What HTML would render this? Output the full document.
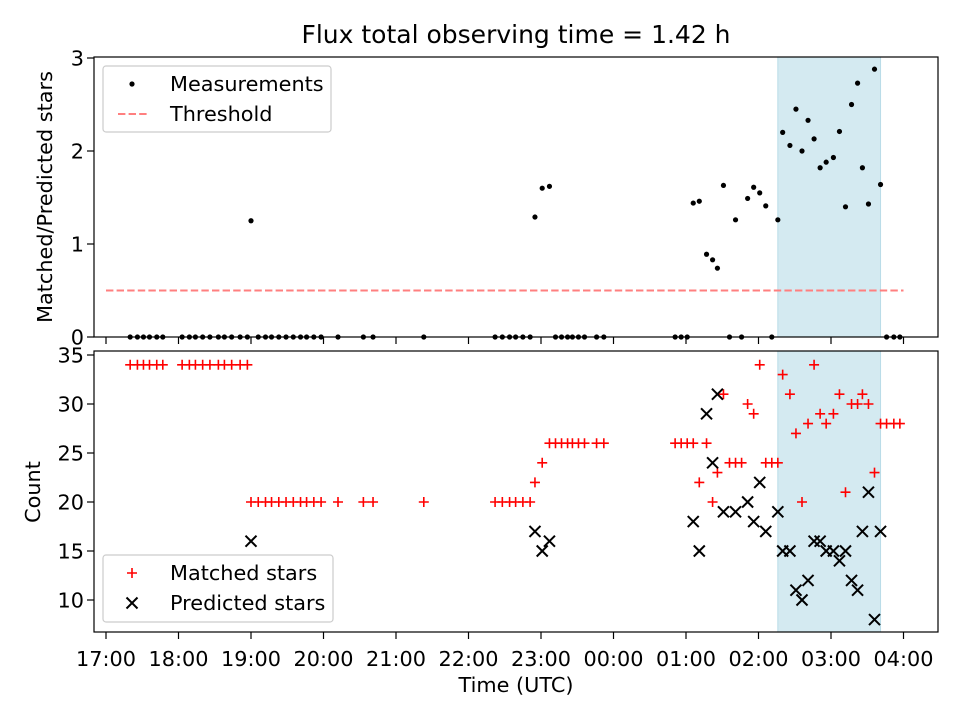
<!DOCTYPE html>
<html><head><meta charset="utf-8"><style>
html,body{margin:0;padding:0;background:#fff;}
svg{display:block;font-family:"DejaVu Sans","Liberation Sans",sans-serif;}
</style></head><body>
<svg id="chart" width="960" height="720" viewBox="0 0 960 720">
<text x="516" y="43" font-size="25" text-anchor="middle">Flux total observing time = 1.42 h</text>
<g id="topPanel"></g>
<g id="botPanel"></g>
<text transform="translate(52,197) rotate(-90)" font-size="20.8" text-anchor="middle">Matched/Predicted stars</text>
<text transform="translate(40,492) rotate(-90)" font-size="20.8" text-anchor="middle">Count</text>
<text x="516" y="692" font-size="20.8" text-anchor="middle">Time (UTC)</text>
</svg>
<script>
// minutes since 17:00 UTC
const times = [20,26,31,36,42,47, 63,69,74,80,86,93,98,104,111,117, 120,126,132,137,143,149,155,161,166,172,178, 192,213,221,263, 322,328,334,339,345,351, 355,361,367, 372,377,382,386,391,396,406,412, 471,476,481,486,491,497,502,506,511,516,521,526,531,536,541,546,551,556, 560,566,571,576,581,586,591,596,602,607,612,617,622,626,631,636,641, 646,652,657];
const matched = [34,34,34,34,34,34, 34,34,34,34,34,34,34,34,34,34, 20,20,20,20,20,20,20,20,20,20,20, 20,20,20,20, 20,20,20,20,20,20, 22,24,26, 26,26,26,26,26,26,26,26, 26,26,26,26,22,26,20,23,31,24,24,24,30,29,34,24,24,24, 33,31,27,20,28,34,29,28,29,31,21,30,30,31,30,23,28, 28,28,28];
const predicted = [null,null,null,null,null,null, null,null,null,null,null,null,null,null,null,null, 16,null,null,null,null,null,null,null,null,null,null, null,null,null,null, null,null,null,null,null,null, 17,15,16, null,null,null,null,null,null,null,null, null,null,null,18,15,29,24,31,19,null,19,null,20,18,22,17,null,19, 15,15,11,10,12,16,16,15,15,14,15,12,11,17,21,8,17, null,null,null];
const ratio = [0,0,0,0,0,0, 0,0,0,0,0,0,0,0,0,0, 1.25,0,0,0,0,0,0,0,0,0,0, 0,0,0,0, 0,0,0,0,0,0, 1.29,1.6,1.62, 0,0,0,0,0,0,0,0, 0,0,0,1.44,1.46,0.89,0.83,0.74,1.63,0,1.26,0,1.49,1.61,1.55,1.41,0,1.26, 2.2,2.06,2.45,2.0,2.33,2.13,1.82,1.88,1.93,2.21,1.40,2.5,2.73,1.82,1.43,2.88,1.64, 0,0,0];
const threshold = 0.5;
const thresholdRange = [0, 660];
const shadeRange = [556, 641];
const xTickMinutes = [0,60,120,180,240,300,360,420,480,540,600,660];
const xTickLabels = ["17:00","18:00","19:00","20:00","21:00","22:00","23:00","00:00","01:00","02:00","03:00","04:00"];
const topTicks = [0,1,2,3];
const botTicks = [10,15,20,25,30,35];

const NS="http://www.w3.org/2000/svg";
function mk(tag,attrs,parent){const e=document.createElementNS(NS,tag);for(const k in attrs)e.setAttribute(k,attrs[k]);parent.appendChild(e);return e;}
const L=94,R=938,FS=20.8,TL=7;
const X=m=>106+m*72.5/60;
const Yt=v=>337-v*(337-58)/3;
const Yb=v=>600-(v-10)*(600-355)/25;
const gTop=document.getElementById('topPanel'), gBot=document.getElementById('botPanel');

function shade(g,y0,y1){
  const r=mk('rect',{x:X(shadeRange[0]),y:y0,width:X(shadeRange[1])-X(shadeRange[0]),height:y1-y0,fill:'#d4eaf1',stroke:'#b9dce7','stroke-width':1},g);
  
  
}
shade(gTop,57,337); shade(gBot,351,632);

const th=mk('line',{x1:X(thresholdRange[0]),x2:X(thresholdRange[1]),y1:Yt(threshold),y2:Yt(threshold),stroke:'#ff7f7f','stroke-width':2,'stroke-dasharray':'7.4,3.2'},gTop);



times.forEach((t,i)=>{
  const c=mk('circle',{cx:X(t),cy:Yt(ratio[i]),r:2.6,fill:'#000'},gTop);
  
  
});
times.forEach((t,i)=>{
  const x=X(t),y=Yb(matched[i]);
  const p=mk('path',{d:`M${x-5},${y}H${x+5}M${x},${y-5}V${y+5}`,stroke:'#f00','stroke-width':1.6,fill:'none'},gBot);
  
  
});
times.forEach((t,i)=>{
  if(predicted[i]==null)return;
  const x=X(t),y=Yb(predicted[i]);
  const p=mk('path',{d:`M${x-5.5},${y-5.5}L${x+5.5},${y+5.5}M${x-5.5},${y+5.5}L${x+5.5},${y-5.5}`,stroke:'#000','stroke-width':2,fill:'none'},gBot);
  
  
});

[[gTop,57,337],[gBot,351,632]].forEach(([g,y0,y1])=>{
  const f=mk('rect',{x:L,y:y0,width:R-L,height:y1-y0,fill:'none',stroke:'#000','stroke-width':1.2},g);
  
  
});
xTickMinutes.forEach((m,i)=>{
  const x=X(m);
  mk('line',{x1:x,x2:x,y1:337,y2:337+TL,stroke:'#000','stroke-width':1.2},gTop);
  mk('line',{x1:x,x2:x,y1:632,y2:632+TL,stroke:'#000','stroke-width':1.2},gBot);
  const tx=mk('text',{x:x,y:666,'font-size':FS,'text-anchor':'middle'},gBot);
  tx.textContent=xTickLabels[i];
  
  
});
topTicks.forEach(v=>{
  const y=Yt(v);
  mk('line',{x1:L-TL,x2:L,y1:y,y2:y,stroke:'#000','stroke-width':1.2},gTop);
  const tx=mk('text',{x:L-10,y:y+7.5,'font-size':FS,'text-anchor':'end'},gTop);
  tx.textContent=v;
  
  
});
botTicks.forEach(v=>{
  const y=Yb(v);
  mk('line',{x1:L-TL,x2:L,y1:y,y2:y,stroke:'#000','stroke-width':1.2},gBot);
  const tx=mk('text',{x:L-10,y:y+7.5,'font-size':FS,'text-anchor':'end'},gBot);
  tx.textContent=v;
  
  
});

function legendBox(g,x,y,w,h,name){
  const r=mk('rect',{x:x,y:y,width:w,height:h,rx:3,fill:'#fff','fill-opacity':0.8,stroke:'#ccc','stroke-width':1.2},g);
  
  
}
legendBox(gTop,103,66,228,66,'legend-ratio');
mk('circle',{cx:132,cy:84,r:2.6,fill:'#000'},gTop);
let t1=mk('text',{x:170,y:91,'font-size':FS},gTop);t1.textContent='Measurements';


mk('line',{x1:118,x2:148,y1:114,y2:114,stroke:'#ff7f7f','stroke-width':2,'stroke-dasharray':'7.4,3.2'},gTop);
let t2=mk('text',{x:170,y:121,'font-size':FS},gTop);t2.textContent='Threshold';



legendBox(gBot,103,555,230,67,'legend-count');
mk('path',{d:'M127,573H137M132,568V578',stroke:'#f00','stroke-width':1.6},gBot);
let t3=mk('text',{x:170,y:580,'font-size':FS},gBot);t3.textContent='Matched stars';


mk('path',{d:'M126.5,597.5L137.5,608.5M126.5,608.5L137.5,597.5',stroke:'#000','stroke-width':2},gBot);
let t4=mk('text',{x:170,y:610,'font-size':FS},gBot);t4.textContent='Predicted stars';


</script>
</body></html>
